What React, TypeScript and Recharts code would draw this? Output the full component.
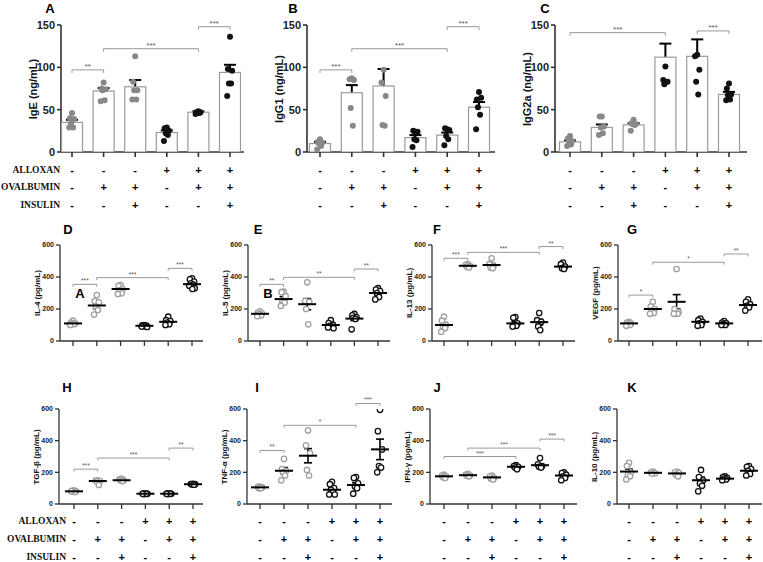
import React from "react";
import { ComposedChart, ErrorBar, ReferenceLine, Scatter, XAxis, YAxis } from "recharts";

type Bracket = [number, number, number, string];

// treatment table, one entry per group
const alloxan = ["-", "-", "-", "+", "+", "+"];
const ovalbumin = ["-", "+", "+", "-", "+", "+"];
const insulin = ["-", "-", "+", "-", "-", "+"];
const treatmentNames = ["ALLOXAN", "OVALBUMIN", "INSULIN"];

// A - IgE
const igePoints = [[46, 40, 39, 34, 29, 29], [82, 75, 74, 73, 61, 60], [113, 83, 73, 73, 62, 62], [29, 28, 25, 22, 20, 13], [48, 47, 47, 46, 46, 45], [136, 98, 96, 81, 81, 66]];
const igeMean = [35, 72, 77, 23, 47, 94];
const igeSem = [3, 3.5, 8, 2.5, 1, 9];
const igeStars: Bracket[] = [[0, 1, 97, "**"], [1, 4, 122, "***"], [4, 5, 148, "***"]];

// B - IgG1
const igg1Points = [[15, 12, 11, 10, 7, 3], [87, 86, 85, 52, 31], [97, 82, 66, 32, 31], [24, 25, 24, 15, 14, 6], [27, 28, 26, 19, 15, 8], [71, 62, 64, 53, 44, 27]];
const igg1Mean = [10, 70, 78, 17, 20, 53];
const igg1Sem = [2, 9, 20, 3, 3, 6];
const igg1Stars: Bracket[] = [[0, 1, 97, "***"], [1, 4, 122, "***"], [4, 5, 148, "***"]];

// C - IgG2a
const igg2aPoints = [[19, 16, 13, 13, 9, 7], [42, 42, 30, 29, 22, 20], [38, 34, 33, 33, 32, 25], [101, 85, 83, 80], [115, 113, 97, 83, 68], [81, 75, 68, 67, 62, 61]];
const igg2aMean = [12, 29, 32, 112, 113, 68];
const igg2aSem = [1.5, 3.5, 2, 16, 20, 3];
const igg2aStars: Bracket[] = [[0, 3, 141, "***"], [4, 5, 143, "***"]];

// D - IL-4
const il4Points = [[127, 115, 110, 108, 105, 100], [287, 250, 242, 215, 194, 165], [350, 344, 323, 318, 298, 294], [100, 98, 96, 94, 92, 90, 88], [152, 130, 125, 115, 105, 100], [392, 385, 372, 360, 352, 345, 330, 325]];
const il4Mean = [110, 222, 325, 95, 120, 355];
const il4Sem = [4, 20, 9, 2, 8, 9];
const il4Stars: Bracket[] = [[0, 1, 354, "***"], [1, 4, 396, "***"], [4, 5, 454, "***"]];

// E - IL-5
const il5Points = [[185, 178, 172, 168, 160, 155], [308, 305, 280, 250, 240, 219], [367, 250, 245, 200, 104], [130, 112, 102, 95, 90, 85, 80], [169, 160, 150, 145, 138, 73], [330, 322, 312, 300, 275, 260]];
const il5Mean = [170, 262, 230, 100, 140, 300];
const il5Sem = [5, 15, 35, 8, 12, 12];
const il5Stars: Bracket[] = [[0, 1, 354, "**"], [1, 4, 398, "**"], [4, 5, 450, "**"]];

// F - IL-13
const il13Points = [[152, 127, 100, 90, 80, 58], [480, 475, 470, 465, 460], [517, 480, 470, 460, 455], [150, 145, 110, 100, 95, 90], [175, 130, 120, 90, 68], [490, 480, 465, 455, 450]];
const il13Mean = [100, 470, 475, 110, 118, 465];
const il13Sem = [15, 4, 10, 10, 18, 6];
const il13Stars: Bracket[] = [[0, 1, 517, "***"], [1, 4, 554, "***"], [4, 5, 590, "**"]];

// G - VEGF
const vegfPoints = [[120, 115, 110, 105, 100, 95], [245, 215, 200, 190, 175, 170], [450, 200, 180, 170, 170, 170], [140, 130, 120, 110, 100, 95], [125, 115, 110, 105, 100, 100], [260, 245, 230, 220, 210, 190]];
const vegfMean = [110, 200, 245, 120, 110, 225];
const vegfSem = [4, 12, 45, 8, 4, 10];
const vegfStars: Bracket[] = [[0, 1, 287, "*"], [1, 4, 492, "*"], [4, 5, 544, "**"]];

// H - TGF-β
const tgfPoints = [[86, 83, 80, 78, 76, 80], [150, 148, 145, 142, 120], [160, 155, 150, 148, 145], [66, 65, 64, 63, 65, 64], [66, 65, 64, 63, 65, 64], [128, 126, 125, 124, 122]];
const tgfMean = [80, 145, 150, 65, 65, 125];
const tgfSem = [2, 5, 3, 1, 1, 2];
const tgfStars: Bracket[] = [[0, 1, 220, "***"], [1, 4, 290, "***"], [4, 5, 353, "**"]];

// I - TNF-α
const tnfPoints = [[110, 108, 105, 100, 100], [285, 220, 210, 200, 180, 150], [465, 370, 320, 215, 180], [140, 125, 100, 90, 75, 60, 60], [170, 165, 130, 110, 100, 65], [595, 460, 345, 240, 230, 200]];
const tnfMean = [105, 210, 305, 90, 120, 345];
const tnfSem = [3, 20, 45, 12, 15, 65];
const tnfStars: Bracket[] = [[0, 1, 338, "**"], [1, 4, 497, "*"], [4, 5, 635, "***"]];

// J - IFN-γ
const ifnPoints = [[185, 180, 175, 170, 165], [190, 185, 180, 178, 175], [180, 175, 165, 160, 155], [245, 240, 235, 230, 220], [290, 250, 240, 235, 230], [200, 195, 185, 175, 165, 150]];
const ifnMean = [175, 182, 168, 235, 245, 180];
const ifnSem = [4, 3, 5, 5, 8, 8];
const ifnStars: Bracket[] = [[0, 3, 300, "***"], [1, 4, 353, "***"], [4, 5, 410, "***"]];

// K - IL-10
const il10Points = [[260, 240, 200, 185, 175, 155], [205, 200, 195, 192], [205, 200, 195, 185, 175], [215, 170, 150, 130, 115, 80], [175, 170, 165, 160, 155, 150], [240, 235, 220, 210, 190, 180]];
const il10Mean = [205, 197, 193, 150, 160, 210];
const il10Sem = [15, 3, 6, 20, 5, 10];
const il10Stars: Bracket[] = [];

const font = "'Liberation Sans', Arial, sans-serif";
const jitter = [0, -0.24, 0.24, -0.12, 0.12, -0.32, 0.32, 0.04];

type Row = {
  top: number; bottom: number; yMax: number; yTicks: number[]; yw: number; labelGap: number;
  labelSize: number; tickSize: number; axisH: number; signHeights: number[]; bars: boolean;
  spread: number; r: number; capHalf: number; meanHalf: number; starSize: number; axisW: number;
};

const topRow: Row = {
  top: 25, bottom: 152, yMax: 150, yTicks: [0, 50, 100, 150], yw: 48, labelGap: 28,
  labelSize: 11, tickSize: 11, axisH: 10, signHeights: [17, 18, 14], bars: true,
  spread: 1, r: 3, capHalf: 6, meanHalf: 0, starSize: 8, axisW: 1.6
};
const midRow: Row = {
  top: 245, bottom: 341, yMax: 600, yTicks: [0, 200, 400, 600], yw: 42, labelGap: 22,
  labelSize: 8, tickSize: 7, axisH: 8, signHeights: [], bars: false,
  spread: 1.3, r: 2.7, capHalf: 4, meanHalf: 9, starSize: 6.5, axisW: 1.3
};
const botRow: Row = { ...midRow, top: 409, bottom: 504, axisH: 9, signHeights: [18, 18, 12] };

type PanelDef = {
  id: string; row: Row; x0: number; c0: number; c5: number; x1: number; label: string;
  points: number[][]; mean: number[]; sem: number[]; stars: Bracket[];
};

const panels: PanelDef[] = [
  { id: "A", row: topRow, x0: 61, c0: 72, c5: 230, x1: 244, label: "IgE (ng/mL)", points: igePoints, mean: igeMean, sem: igeSem, stars: igeStars },
  { id: "B", row: topRow, x0: 307, c0: 320, c5: 479, x1: 495, label: "IgG1 (ng/mL)", points: igg1Points, mean: igg1Mean, sem: igg1Sem, stars: igg1Stars },
  { id: "C", row: topRow, x0: 555, c0: 570, c5: 729, x1: 747, label: "IgG2a (ng/mL)", points: igg2aPoints, mean: igg2aMean, sem: igg2aSem, stars: igg2aStars },
  { id: "D", row: midRow, x0: 60, c0: 73, c5: 192, x1: 203, label: "IL-4 (pg/mL)", points: il4Points, mean: il4Mean, sem: il4Sem, stars: il4Stars },
  { id: "E", row: midRow, x0: 248, c0: 260, c5: 378, x1: 390, label: "IL-5 (pg/mL)", points: il5Points, mean: il5Mean, sem: il5Sem, stars: il5Stars },
  { id: "F", row: midRow, x0: 432, c0: 444, c5: 563, x1: 575, label: "IL-13 (pg/mL)", points: il13Points, mean: il13Mean, sem: il13Sem, stars: il13Stars },
  { id: "G", row: midRow, x0: 618, c0: 629, c5: 748, x1: 762, label: "VEGF (pg/mL)", points: vegfPoints, mean: vegfMean, sem: vegfSem, stars: vegfStars },
  { id: "H", row: botRow, x0: 59, c0: 74, c5: 193, x1: 203, label: "TGF-β (pg/mL)", points: tgfPoints, mean: tgfMean, sem: tgfSem, stars: tgfStars },
  { id: "I", row: botRow, x0: 247, c0: 260, c5: 380, x1: 392, label: "TNF-α (pg/mL)", points: tnfPoints, mean: tnfMean, sem: tnfSem, stars: tnfStars },
  { id: "J", row: botRow, x0: 430, c0: 444, c5: 564, x1: 577, label: "IFN-γ (pg/mL)", points: ifnPoints, mean: ifnMean, sem: ifnSem, stars: ifnStars },
  { id: "K", row: botRow, x0: 617, c0: 629, c5: 749, x1: 762, label: "IL-10 (pg/mL)", points: il10Points, mean: il10Mean, sem: il10Sem, stars: il10Stars }
];

const letterPos: Record<string, [number, number]> = {
  A: [50, 8], B: [293, 8], C: [545, 8], D: [68, 229], E: [258, 229], F: [437, 229], G: [632, 229],
  H: [67, 387], I: [257, 387], J: [437, 387], K: [632, 387]
};

function toPoints(groups: number[][], from: number, to: number, spread: number) {
  const out: { x: number; y: number }[] = [];
  for (let g = from; g < to; g++) {
    groups[g].forEach((v, k) => out.push({ x: g + jitter[k % jitter.length] * spread, y: v }));
  }
  return out;
}

function Panel({ p }: { p: PanelDef }) {
  const row = p.row;
  const s = (p.c5 - p.c0) / 5;
  const domain: [number, number] = [-(p.c0 - p.x0) / s, 5 + (p.x1 - p.c5) / s];
  const mt = 30;
  const baseline = mt + (row.bottom - row.top);
  const signH = row.signHeights.reduce((a, b) => a + b, 0);
  const height = baseline + row.axisH + signH + 2;
  const width = row.yw + (p.x1 - p.x0) + 6;
  const summary = p.mean.map((m, i) => ({ x: i, y: m, sem: p.sem[i] }));
  const grayPts = toPoints(p.points, 0, 3, row.spread * 0.28);
  const blackPts = toPoints(p.points, 3, 6, row.spread * 0.28);
  const drop = row.yMax * 0.025;
  const filled = row.bars;
  const signRows = [alloxan, ovalbumin, insulin];

  const dot = (color: string) => (props: any) =>
    filled ? (
      <circle cx={props.cx} cy={props.cy} r={row.r} fill={color} />
    ) : (
      <circle cx={props.cx} cy={props.cy} r={row.r} fill="#fff" stroke={color} strokeWidth={1.3} />
    );
  const barShape = (props: any) => (
    <rect x={props.cx - 10.5} y={props.cy} width={21} height={Math.max(0, baseline - props.cy)} fill="#fff" stroke="#9a9a9a" strokeWidth={1.2} />
  );
  const meanLine = (props: any) =>
    row.meanHalf > 0 ? (
      <line x1={props.cx - row.meanHalf} x2={props.cx + row.meanHalf} y1={props.cy} y2={props.cy} stroke="#000" strokeWidth={2} />
    ) : (
      <g />
    );

  return (
    <div style={{ position: "absolute", left: p.x0 - row.yw, top: row.top - mt }}>
      <ComposedChart width={width} height={height} data={summary} margin={{ top: mt, right: 6, bottom: 2, left: 0 }}>
        <XAxis
          xAxisId={0}
          type="number"
          dataKey="x"
          domain={domain}
          ticks={[0, 1, 2, 3, 4, 5]}
          allowDataOverflow
          interval={0}
          tickFormatter={() => ""}
          height={row.axisH}
          tickSize={5}
          stroke="#333"
          strokeWidth={row.axisW}
        />
        {row.signHeights.map((h, k) => (
          <XAxis
            key={k}
            xAxisId={`s${k}`}
            type="number"
            dataKey="x"
            domain={domain}
            ticks={[0, 1, 2, 3, 4, 5]}
            allowDataOverflow
            interval={0}
            axisLine={false}
            tickLine={false}
            tickSize={0}
            tickMargin={4}
            height={h}
            tickFormatter={(v: number) => signRows[k][v]}
            tick={{ fontSize: 11, fontWeight: 700, fill: "#000", fontFamily: font }}
          />
        ))}
        <YAxis
          type="number"
          dataKey="y"
          domain={[0, row.yMax]}
          ticks={row.yTicks}
          allowDataOverflow
          interval={0}
          width={row.yw}
          tickSize={4}
          tickMargin={2}
          stroke="#333"
          strokeWidth={row.axisW}
          tick={{ fontSize: row.tickSize, fontWeight: 700, fill: "#222", fontFamily: font }}
        />
        {row.bars && <Scatter data={summary} shape={barShape} isAnimationActive={false} />}
        {p.stars.map(([a, b, h, t], k) => (
          <ReferenceLine
            key={`h${k}`}
            segment={[{ x: a, y: h }, { x: b, y: h }]}
            stroke="#999"
            strokeWidth={1}
            ifOverflow="visible"
            label={{ value: t, position: "top", offset: 1, fontSize: row.starSize, fill: "#555", fontFamily: font }}
          />
        ))}
        {p.stars.map(([a, , h], k) => (
          <ReferenceLine key={`l${k}`} segment={[{ x: a, y: h }, { x: a, y: h - drop }]} stroke="#999" strokeWidth={1} ifOverflow="visible" />
        ))}
        {p.stars.map(([, b, h], k) => (
          <ReferenceLine key={`r${k}`} segment={[{ x: b, y: h }, { x: b, y: h - drop }]} stroke="#999" strokeWidth={1} ifOverflow="visible" />
        ))}
        <Scatter data={grayPts} shape={dot(filled ? "#888" : "#a0a0a0")} isAnimationActive={false} />
        <Scatter data={blackPts} shape={dot("#111")} isAnimationActive={false} />
        <Scatter data={summary} shape={meanLine} isAnimationActive={false}>
          <ErrorBar dataKey="sem" direction="y" width={row.capHalf} stroke="#000" strokeWidth={filled ? 2 : 1.6} />
        </Scatter>
      </ComposedChart>
    </div>
  );
}

const textStyle = (x: number, y: number, size: number): React.CSSProperties => ({
  position: "absolute",
  left: x - 20,
  top: y - size / 2 - 1,
  width: 40,
  textAlign: "center",
  fontFamily: font,
  fontWeight: 700,
  fontSize: size,
  lineHeight: `${size + 2}px`
});

function AxisTitle({ p }: { p: PanelDef }) {
  const cx = p.x0 - p.row.labelGap;
  const cy = (p.row.top + p.row.bottom) / 2;
  return (
    <div
      style={{
        position: "absolute",
        left: cx - 60,
        top: cy - 8,
        width: 120,
        height: 16,
        lineHeight: "16px",
        textAlign: "center",
        transform: "rotate(-90deg)",
        fontFamily: font,
        fontWeight: 700,
        fontSize: p.row.labelSize,
        color: "#111",
        whiteSpace: "nowrap"
      }}
    >
      {p.label}
    </div>
  );
}

function RowLabels({ right, ys }: { right: number; ys: number[] }) {
  return (
    <>
      {treatmentNames.map((n, i) => (
        <div
          key={n}
          style={{
            position: "absolute",
            right: 763 - right,
            top: ys[i] - 7,
            lineHeight: "14px",
            fontFamily: "'Liberation Serif', 'Times New Roman', serif",
            fontWeight: 700,
            fontSize: 9.5,
            color: "#111"
          }}
        >
          {n}
        </div>
      ))}
    </>
  );
}

export default function App() {
  return (
    <div style={{ position: "absolute", left: 0, top: 0, width: 763, height: 562, background: "#fff", overflow: "hidden" }}>
      {panels.map((p) => (
        <Panel key={p.id} p={p} />
      ))}
      {panels.map((p) => (
        <AxisTitle key={`y${p.id}`} p={p} />
      ))}
      {panels.map((p) => (
        <div key={`t${p.id}`} style={textStyle(letterPos[p.id][0], letterPos[p.id][1], 13)}>
          {p.id}
        </div>
      ))}
      <div style={textStyle(80, 293, 13)}>A</div>
      <div style={textStyle(268, 293, 13)}>B</div>
      <RowLabels right={60} ys={[170, 187, 205]} />
      <RowLabels right={66} ys={[521, 539, 557]} />
    </div>
  );
}
